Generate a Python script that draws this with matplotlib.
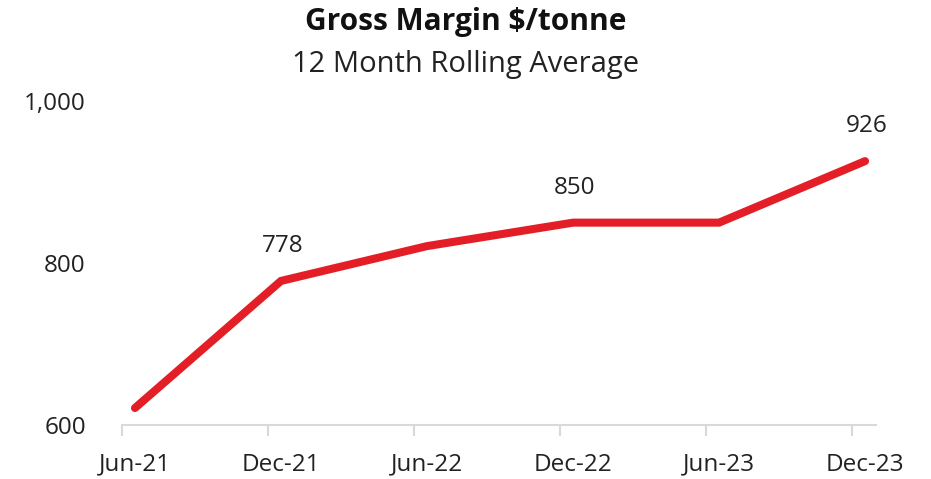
import numpy as np
import matplotlib.pyplot as plt
from matplotlib.ticker import FuncFormatter

plt.rcParams['font.family'] = ['Open Sans', 'DejaVu Sans']

periods = ["Jun-21", "Dec-21", "Jun-22", "Dec-22", "Jun-23", "Dec-23"]
margin = [621, 778, 821, 850, 850, 926]
labelled = {1: "778", 3: "850", 5: "926"}
yticks = [600, 800, 1000]

red = "#E41E26"
grey = "#D9D9D9"
fs = 17.5

fig = plt.figure(figsize=(9.31, 4.79), dpi=100)
ax = fig.add_axes([0.131, 0.1127, 0.810, 0.676])

x = np.arange(len(periods))
ax.plot(x, margin, color=red, lw=5.8, solid_capstyle="round", solid_joinstyle="miter")

for i, txt in labelled.items():
    ax.annotate(txt, (x[i], margin[i]), xytext=(1, 25), textcoords="offset points",
                ha="center", va="center", fontsize=fs, color="#222222")

# tick marks sit just left of each point, labels centred on the points
off = 13 / 146
ax.set_xlim(-off, len(periods) - 1 + 11 / 146)
ax.set_xticks(x - off)
ax.set_xticklabels([])
ax.set_xticks(x, minor=True)
ax.set_xticklabels(periods, minor=True, fontsize=fs, color="#222222")
ax.tick_params(axis="x", which="major", length=8, width=1.5, color=grey, direction="out")
ax.tick_params(axis="x", which="minor", length=0, pad=20)

ax.set_ylim(600, 1000)
ax.set_yticks(yticks)
ax.yaxis.set_major_formatter(FuncFormatter(lambda v, p: f"{v:,.0f}"))
ax.tick_params(axis="y", length=0, pad=26, labelsize=fs, labelcolor="#222222")

for s in ["top", "right", "left"]:
    ax.spines[s].set_visible(False)
ax.spines["bottom"].set_color(grey)
ax.spines["bottom"].set_linewidth(1.5)

fig.text(0.5, 0.955, "Gross Margin $/tonne", ha="center", va="center",
         fontsize=21.5, fontweight="bold", color="#111111")
fig.text(0.5, 0.865, "12 Month Rolling Average", ha="center", va="center",
         fontsize=21, color="#222222")

fig.savefig("out.png", dpi=100)
